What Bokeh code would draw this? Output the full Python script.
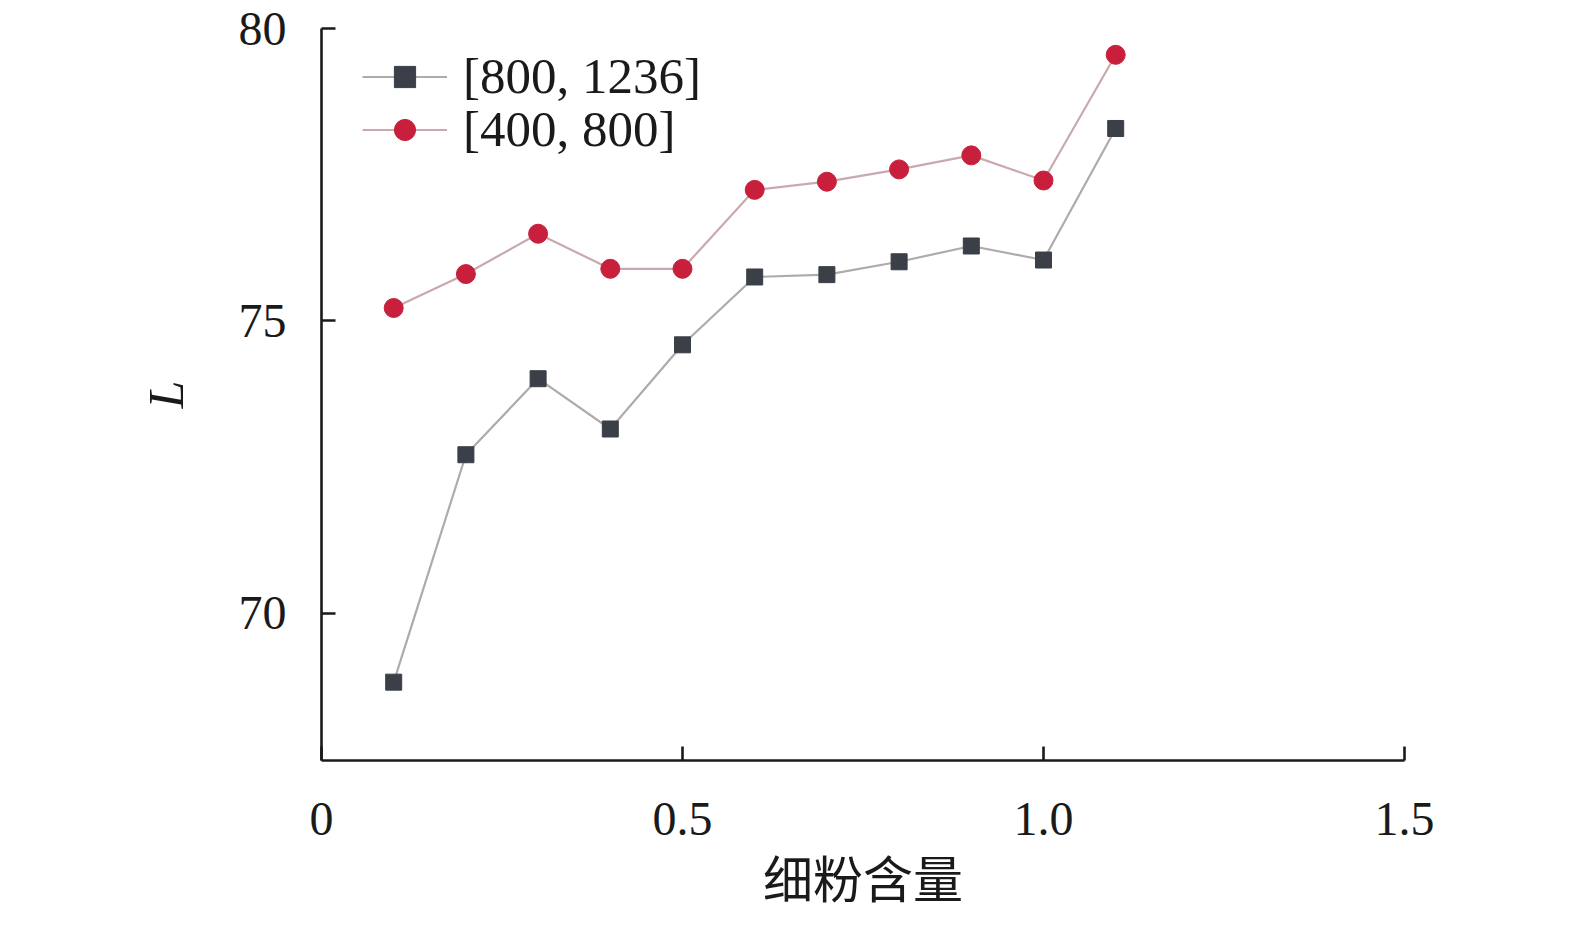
from bokeh.plotting import figure
from bokeh.models import Range1d, FixedTicker, Legend, LegendItem
from bokeh.embed import file_html
from bokeh.resources import INLINE

x_vals = [0.1, 0.2, 0.3, 0.4, 0.5, 0.6, 0.7, 0.8, 0.9, 1.0, 1.1]
s_high = [68.82, 72.71, 74.01, 73.15, 74.59, 75.75, 75.79, 76.01, 76.28, 76.04, 78.29]
s_low = [75.22, 75.80, 76.49, 75.89, 75.89, 77.24, 77.38, 77.59, 77.83, 77.40, 79.55]
labels = ["[800, 1236]", "[400, 800]"]
x_ticks = [0, 0.5, 1.0, 1.5]
y_ticks = [70, 75, 80]
x_title = "细粉含量"
y_title = "L"

W, H = 1555, 913
p = figure(width=W, height=H, output_backend="svg", toolbar_location=None,
           x_range=Range1d(0, 1.5), y_range=Range1d(67.48, 80),
           min_border_left=321, min_border_right=151, min_border_top=28, min_border_bottom=153)
p.outline_line_color = None
p.grid.visible = False
p.background_fill_color = "white"
p.border_fill_color = "white"

serif = "Liberation Serif"
for ax in (p.xaxis[0], p.yaxis[0]):
    ax.axis_line_width = 2.6
    ax.axis_line_color = "#1a1a1a"
    ax.major_tick_line_width = 2.6
    ax.major_tick_line_color = "#1a1a1a"
    ax.major_tick_in = 14
    ax.major_tick_out = 0
    ax.minor_tick_line_color = None
    ax.major_label_text_font = serif
    ax.major_label_text_font_size = "48px"
    ax.major_label_text_color = "#1a1a1a"

p.xaxis.ticker = FixedTicker(ticks=x_ticks)
p.yaxis.ticker = FixedTicker(ticks=y_ticks)
p.xaxis.major_label_overrides = {0: "0", 0.5: "0.5", 1.0: "1.0", 1.5: "1.5"}
p.yaxis.major_label_overrides = {70: "70", 75: "75", 80: "80"}
p.xaxis.major_label_standoff = 42
p.yaxis.major_label_standoff = 35

p.xaxis.axis_label = x_title
p.xaxis.axis_label_text_font = "'Liberation Serif', 'Noto Sans CJK SC'"
p.xaxis.axis_label_text_font_style = "normal"
p.xaxis.axis_label_text_font_size = "50px"
p.xaxis.axis_label_text_color = "#1a1a1a"
p.xaxis.axis_label_standoff = 15

p.yaxis.axis_label = y_title
p.yaxis.axis_label_text_font = serif
p.yaxis.axis_label_text_font_style = "italic"
p.yaxis.axis_label_text_font_size = "50px"
p.yaxis.axis_label_text_color = "#1a1a1a"
p.yaxis.axis_label_standoff = 42

l1 = p.line(x_vals, s_high, line_color="#b0aaaa", line_width=2.2)
m1 = p.scatter(x_vals, s_high, marker="square", size=16, fill_color="#3a3f48", line_color="#3a3f48")
l2 = p.line(x_vals, s_low, line_color="#c8aaae", line_width=2.2)
m2 = p.scatter(x_vals, s_low, marker="circle", size=19, fill_color="#c8203c", line_color="#c8203c")


def make_legend(label, renderers, loc):
    lg = Legend(items=[LegendItem(label=label, renderers=renderers)], location=loc)
    lg.border_line_color = None
    lg.background_fill_alpha = 0
    lg.label_text_font = serif
    lg.label_text_font_size = "51px"
    lg.label_text_color = "#1a1a1a"
    lg.glyph_width = 85
    lg.glyph_height = 53
    lg.label_height = 53
    lg.label_standoff = 16
    lg.spacing = 0
    lg.padding = 0
    lg.margin = 0
    return lg


p.add_layout(make_legend(labels[0], [l1, m1], (41, 655)))
p.add_layout(make_legend(labels[1], [l2, m2], (41, 602)))

open("out.html", "w").write(file_html(p, INLINE))
